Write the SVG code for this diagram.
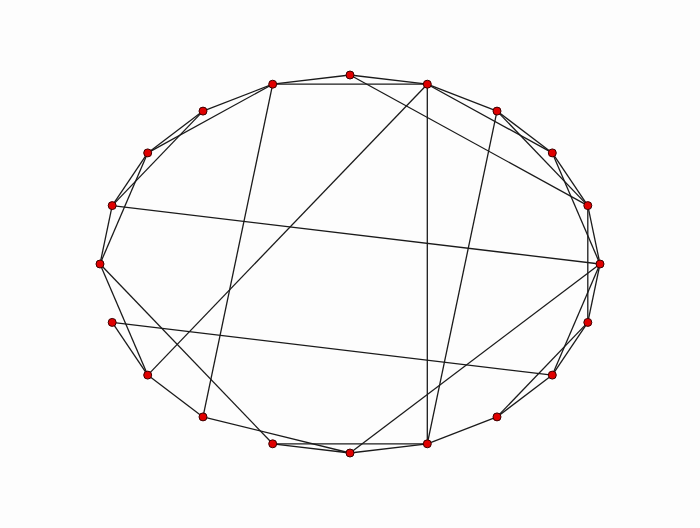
<svg xmlns="http://www.w3.org/2000/svg" width="700" height="528" viewBox="0 0 700 528">
<style>
.e{stroke:#1a1a1a;stroke-width:1.3;fill:none}
.n{fill:#e00000;stroke:#3a0000;stroke-width:1}
</style>
<rect width="700" height="528" fill="#fdfdfd"/>
<g id="connectors" class="e">
<line x1="350" y1="75" x2="272.7" y2="84.2"/>
<line x1="350" y1="75" x2="427.3" y2="84.2"/>
<line x1="272.7" y1="84.2" x2="427.3" y2="84.2"/>
<line x1="350" y1="75" x2="587.8" y2="205.6"/>
<line x1="427.3" y1="84.2" x2="497" y2="111.1"/>
<line x1="427.3" y1="84.2" x2="552.3" y2="152.9"/>
<line x1="427.3" y1="84.2" x2="427.3" y2="443.8"/>
<line x1="427.3" y1="84.2" x2="147.7" y2="375.1"/>
<line x1="497" y1="111.1" x2="552.3" y2="152.9"/>
<line x1="497" y1="111.1" x2="587.8" y2="205.6"/>
<line x1="497" y1="111.1" x2="427.3" y2="443.8"/>
<line x1="552.3" y1="152.9" x2="587.8" y2="205.6"/>
<line x1="552.3" y1="152.9" x2="600" y2="264"/>
<line x1="587.8" y1="205.6" x2="600" y2="264"/>
<line x1="587.8" y1="205.6" x2="587.8" y2="322.4"/>
<line x1="600" y1="264" x2="587.8" y2="322.4"/>
<line x1="600" y1="264" x2="552.3" y2="375.1"/>
<line x1="600" y1="264" x2="350" y2="453"/>
<line x1="600" y1="264" x2="112.2" y2="205.6"/>
<line x1="587.8" y1="322.4" x2="552.3" y2="375.1"/>
<line x1="587.8" y1="322.4" x2="497" y2="416.9"/>
<line x1="552.3" y1="375.1" x2="497" y2="416.9"/>
<line x1="552.3" y1="375.1" x2="112.2" y2="322.4"/>
<line x1="497" y1="416.9" x2="427.3" y2="443.8"/>
<line x1="427.3" y1="443.8" x2="350" y2="453"/>
<line x1="427.3" y1="443.8" x2="272.7" y2="443.8"/>
<line x1="350" y1="453" x2="272.7" y2="443.8"/>
<line x1="350" y1="453" x2="203" y2="416.9"/>
<line x1="272.7" y1="443.8" x2="100" y2="264"/>
<line x1="203" y1="416.9" x2="147.7" y2="375.1"/>
<line x1="203" y1="416.9" x2="272.7" y2="84.2"/>
<line x1="147.7" y1="375.1" x2="112.2" y2="322.4"/>
<line x1="147.7" y1="375.1" x2="100" y2="264"/>
<line x1="100" y1="264" x2="112.2" y2="205.6"/>
<line x1="100" y1="264" x2="147.7" y2="152.9"/>
<line x1="112.2" y1="205.6" x2="147.7" y2="152.9"/>
<line x1="112.2" y1="205.6" x2="203" y2="111.1"/>
<line x1="147.7" y1="152.9" x2="203" y2="111.1"/>
<line x1="147.7" y1="152.9" x2="272.7" y2="84.2"/>
<line x1="203" y1="111.1" x2="272.7" y2="84.2"/>
</g>
<g id="n0"><circle class="n" cx="350" cy="75" r="4"/></g>
<g id="n1"><circle class="n" cx="427.3" cy="84.2" r="4"/></g>
<g id="n2"><circle class="n" cx="497" cy="111.1" r="4"/></g>
<g id="n3"><circle class="n" cx="552.3" cy="152.9" r="4"/></g>
<g id="n4"><circle class="n" cx="587.8" cy="205.6" r="4"/></g>
<g id="n5"><circle class="n" cx="600" cy="264" r="4"/></g>
<g id="n6"><circle class="n" cx="587.8" cy="322.4" r="4"/></g>
<g id="n7"><circle class="n" cx="552.3" cy="375.1" r="4"/></g>
<g id="n8"><circle class="n" cx="497" cy="416.9" r="4"/></g>
<g id="n9"><circle class="n" cx="427.3" cy="443.8" r="4"/></g>
<g id="n10"><circle class="n" cx="350" cy="453" r="4"/></g>
<g id="n11"><circle class="n" cx="272.7" cy="443.8" r="4"/></g>
<g id="n12"><circle class="n" cx="203" cy="416.9" r="4"/></g>
<g id="n13"><circle class="n" cx="147.7" cy="375.1" r="4"/></g>
<g id="n14"><circle class="n" cx="112.2" cy="322.4" r="4"/></g>
<g id="n15"><circle class="n" cx="100" cy="264" r="4"/></g>
<g id="n16"><circle class="n" cx="112.2" cy="205.6" r="4"/></g>
<g id="n17"><circle class="n" cx="147.7" cy="152.9" r="4"/></g>
<g id="n18"><circle class="n" cx="203" cy="111.1" r="4"/></g>
<g id="n19"><circle class="n" cx="272.7" cy="84.2" r="4"/></g>
</svg>
